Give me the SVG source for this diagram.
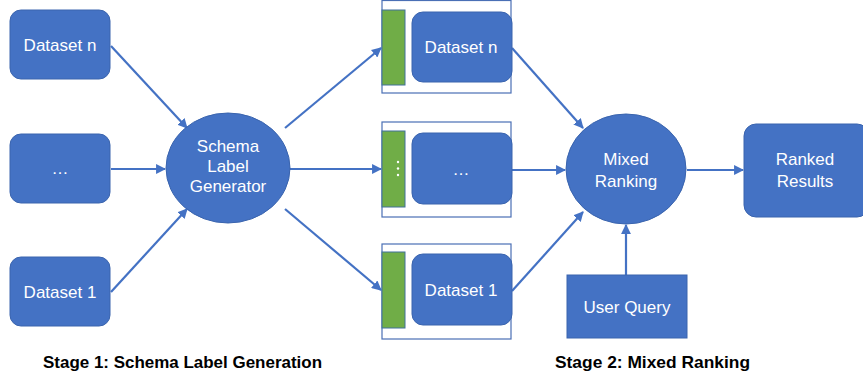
<svg xmlns="http://www.w3.org/2000/svg" width="863" height="381" viewBox="0 0 863 381">
<style>
.b{fill:#4472C4;stroke:#3A64AE;stroke-width:1}
.g{fill:#70AD47;stroke:#41719C;stroke-width:1}
.f{fill:#fff;stroke:#4A6FB5;stroke-width:1.2}
.t{fill:#fff;font-family:"Liberation Sans",Arial,sans-serif;font-size:17px;text-anchor:middle}
.c{stroke:#4472C4;stroke-width:2.2;fill:none;marker-end:url(#ah)}
.s{fill:#000;font-family:"Liberation Sans",Arial,sans-serif;font-size:16.5px;font-weight:bold}
</style>
<defs>
<marker id="ah" viewBox="0 0 10 10" refX="9" refY="5" markerWidth="4.5" markerHeight="4.5" orient="auto" markerUnits="strokeWidth">
<path d="M0,0 L10,5 L0,10 z" fill="#4472C4"/>
</marker>
</defs>
<g id="connectors">
<line class="c" x1="111" y1="46" x2="187" y2="128"/>
<line class="c" x1="111" y1="169" x2="165" y2="169"/>
<line class="c" x1="111" y1="292" x2="187" y2="209"/>
<line class="c" x1="285" y1="128" x2="381" y2="48"/>
<line class="c" x1="290" y1="169" x2="381" y2="169"/>
<line class="c" x1="285" y1="209" x2="381" y2="290"/>
<line class="c" x1="512" y1="48" x2="583" y2="128"/>
<line class="c" x1="512" y1="170" x2="565" y2="170"/>
<line class="c" x1="512" y1="291" x2="583" y2="212"/>
<line class="c" x1="687" y1="170" x2="743" y2="170"/>
<line class="c" x1="626" y1="275" x2="626" y2="225"/>
</g>
<g id="dataset-n-left"><rect class="b" x="10" y="10" width="100" height="69" rx="11"/><text class="t" x="60" y="51">Dataset n</text></g>
<g id="dots-left"><rect class="b" x="10" y="134" width="100" height="69" rx="11"/><text class="t" x="60" y="174">…</text></g>
<g id="dataset-1-left"><rect class="b" x="10" y="257" width="100" height="69" rx="11"/><text class="t" x="60" y="298">Dataset 1</text></g>
<g id="schema-label-generator"><ellipse class="b" cx="228" cy="168" rx="62" ry="55"/><text class="t" x="228" y="152">Schema</text><text class="t" x="228" y="172">Label</text><text class="t" x="228" y="192">Generator</text></g>
<g id="labeled-n">
<rect class="f" x="382" y="0.5" width="129" height="92.5"/>
<rect class="g" x="382" y="10" width="23" height="75"/>
<rect class="b" x="412" y="12" width="100" height="70" rx="11"/>
<text class="t" x="461" y="53">Dataset n</text>
</g>
<g id="labeled-dots">
<rect class="f" x="382" y="122" width="129" height="95"/>
<rect class="g" x="382" y="131" width="23" height="76"/>
<rect class="b" x="412" y="133" width="100" height="71" rx="11"/>
<text class="t" x="461" y="175">…</text>
<g fill="#fff"><circle cx="398" cy="162" r="1.2"/><circle cx="398" cy="168.5" r="1.2"/><circle cx="398" cy="175" r="1.2"/></g>
</g>
<g id="labeled-1">
<rect class="f" x="382" y="244" width="129" height="95"/>
<rect class="g" x="382" y="252" width="23" height="76"/>
<rect class="b" x="412" y="254" width="100" height="71" rx="11"/>
<text class="t" x="461" y="296">Dataset 1</text>
</g>
<g id="mixed-ranking"><ellipse class="b" cx="626" cy="169" rx="60" ry="55"/><text class="t" x="626" y="165">Mixed</text><text class="t" x="626" y="187">Ranking</text></g>
<g id="ranked-results"><rect class="b" x="744" y="124" width="125" height="93" rx="12"/><text class="t" x="805" y="165">Ranked</text><text class="t" x="805" y="187">Results</text></g>
<g id="user-query"><rect class="b" x="567" y="275" width="120" height="63"/><text class="t" x="627" y="313">User Query</text></g>
<text class="s" x="43" y="368" textLength="279" lengthAdjust="spacingAndGlyphs">Stage 1: Schema Label Generation</text>
<text class="s" x="555" y="368" textLength="195" lengthAdjust="spacingAndGlyphs">Stage 2: Mixed Ranking</text>
</svg>
